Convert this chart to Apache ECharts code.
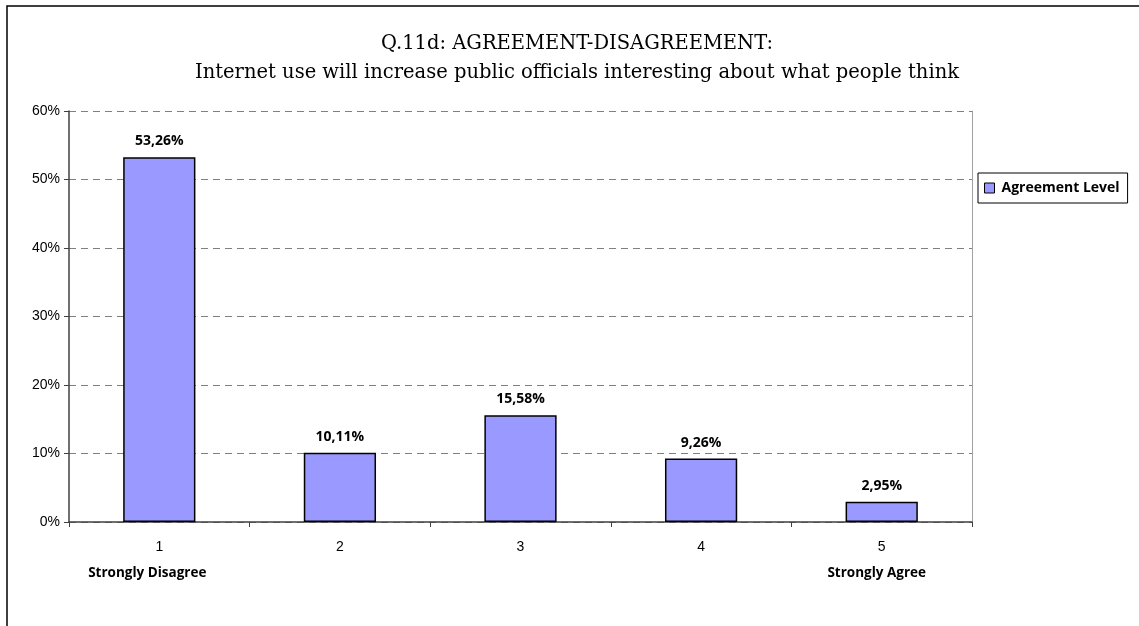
<!DOCTYPE html>
<html>
<head>
<meta charset="utf-8">
<script src="https://cdn.jsdelivr.net/npm/echarts@6/dist/echarts.min.js"></script>
<style>
html,body{margin:0;padding:0;background:#fff;}
#chart{width:1139px;height:626px;}
</style>
</head>
<body>
<div id="chart"></div>
<script>
const categories = ['1', '2', '3', '4', '5'];
const categoryNotes = ['Strongly Disagree', '', '', '', 'Strongly Agree'];
const agreementLevel = [53.26, 10.11, 15.58, 9.26, 2.95];
const yTicks = [0, 10, 20, 30, 40, 50, 60];
const titleLines = ['Q.11d: AGREEMENT-DISAGREEMENT:', 'Internet use will increase public officials interesting about what people think'];
const seriesName = 'Agreement Level';

const chart = echarts.init(document.getElementById('chart'));
chart.setOption({
  animation: false,
  backgroundColor: '#fff',
  graphic: [{
    type: 'rect',
    shape: {x: 7, y: 6, width: 1200, height: 700},
    style: {fill: 'none', stroke: '#000', lineWidth: 1.5},
    silent: true
  }],
  title: {
    text: titleLines.join('\n'),
    left: 572,
    textAlign: 'center',
    top: 24,
    textStyle: {fontFamily: 'DejaVu Serif', fontWeight: 'normal', fontSize: 19.5, lineHeight: 29, color: '#000'}
  },
  legend: {
    data: [seriesName],
    left: 978,
    top: 173,
    orient: 'vertical',
    itemWidth: 10,
    itemHeight: 10,
    itemGap: 0,
    padding: [8, 8, 8, 6],
    borderColor: '#000',
    borderWidth: 1,
    icon: 'rect',
    itemStyle: {borderColor: '#000', borderWidth: 1},
    textStyle: {fontFamily: 'Open Sans', fontWeight: 'bold', fontSize: 14, color: '#000', padding: [0, 0, 0, 2]}
  },
  grid: {left: 69, right: 167, top: 111, bottom: 104},
  xAxis: {
    type: 'category',
    data: categories,
    boundaryGap: true,
    axisLine: {lineStyle: {color: '#404040', width: 1.5}},
    axisTick: {show: true, alignWithLabel: false, length: 5, lineStyle: {color: '#404040'}},
    axisLabel: {
      margin: 10,
      formatter: function (v, i) {
        if (i === 0) return '{n|' + v + '}\n{b1|' + categoryNotes[i] + '}';
        if (categoryNotes[i]) return '{n|' + v + '}\n{b5|' + categoryNotes[i] + '}';
        return '{n|' + v + '}\n{b5| }';
      },
      rich: {
        n: {fontFamily: 'Liberation Sans', fontSize: 14, color: '#000', lineHeight: 30},
        b1: {fontFamily: 'Open Sans', fontWeight: 'bold', fontSize: 13.5, color: '#000', lineHeight: 22, padding: [0, 24, 0, 0]},
        b5: {fontFamily: 'Open Sans', fontWeight: 'bold', fontSize: 13.5, color: '#000', lineHeight: 22, padding: [0, 10, 0, 0]}
      }
    }
  },
  yAxis: [{
    type: 'value',
    min: 0,
    max: 60,
    interval: 10,
    axisLine: {show: true, lineStyle: {color: '#404040', width: 1.5}},
    axisTick: {show: true, length: 5, lineStyle: {color: '#404040'}},
    axisLabel: {
      formatter: function (v) { return yTicks.indexOf(v) >= 0 ? v + '%' : ''; },
      fontFamily: 'Liberation Sans', fontSize: 14, color: '#000', margin: 9
    },
    splitLine: {show: true, lineStyle: {color: '#808080', type: [7, 5], width: 1}}
  }, {
    type: 'value',
    position: 'right',
    min: 0,
    max: 60,
    interval: 10,
    axisLine: {show: true, lineStyle: {color: '#a0a0a0', width: 1}},
    axisTick: {show: false},
    axisLabel: {show: false},
    splitLine: {show: false}
  }],
  series: [{
    name: seriesName,
    type: 'bar',
    data: agreementLevel,
    barWidth: '40%',
    itemStyle: {color: '#9999FF', borderColor: '#000', borderWidth: 1.5},
    label: {
      show: true,
      position: 'top',
      distance: 9,
      formatter: function (p) { return p.value.toFixed(2).replace('.', ',') + '%'; },
      fontFamily: 'Open Sans', fontWeight: 'bold', fontSize: 14, color: '#000'
    }
  }]
});
</script>
</body>
</html>
